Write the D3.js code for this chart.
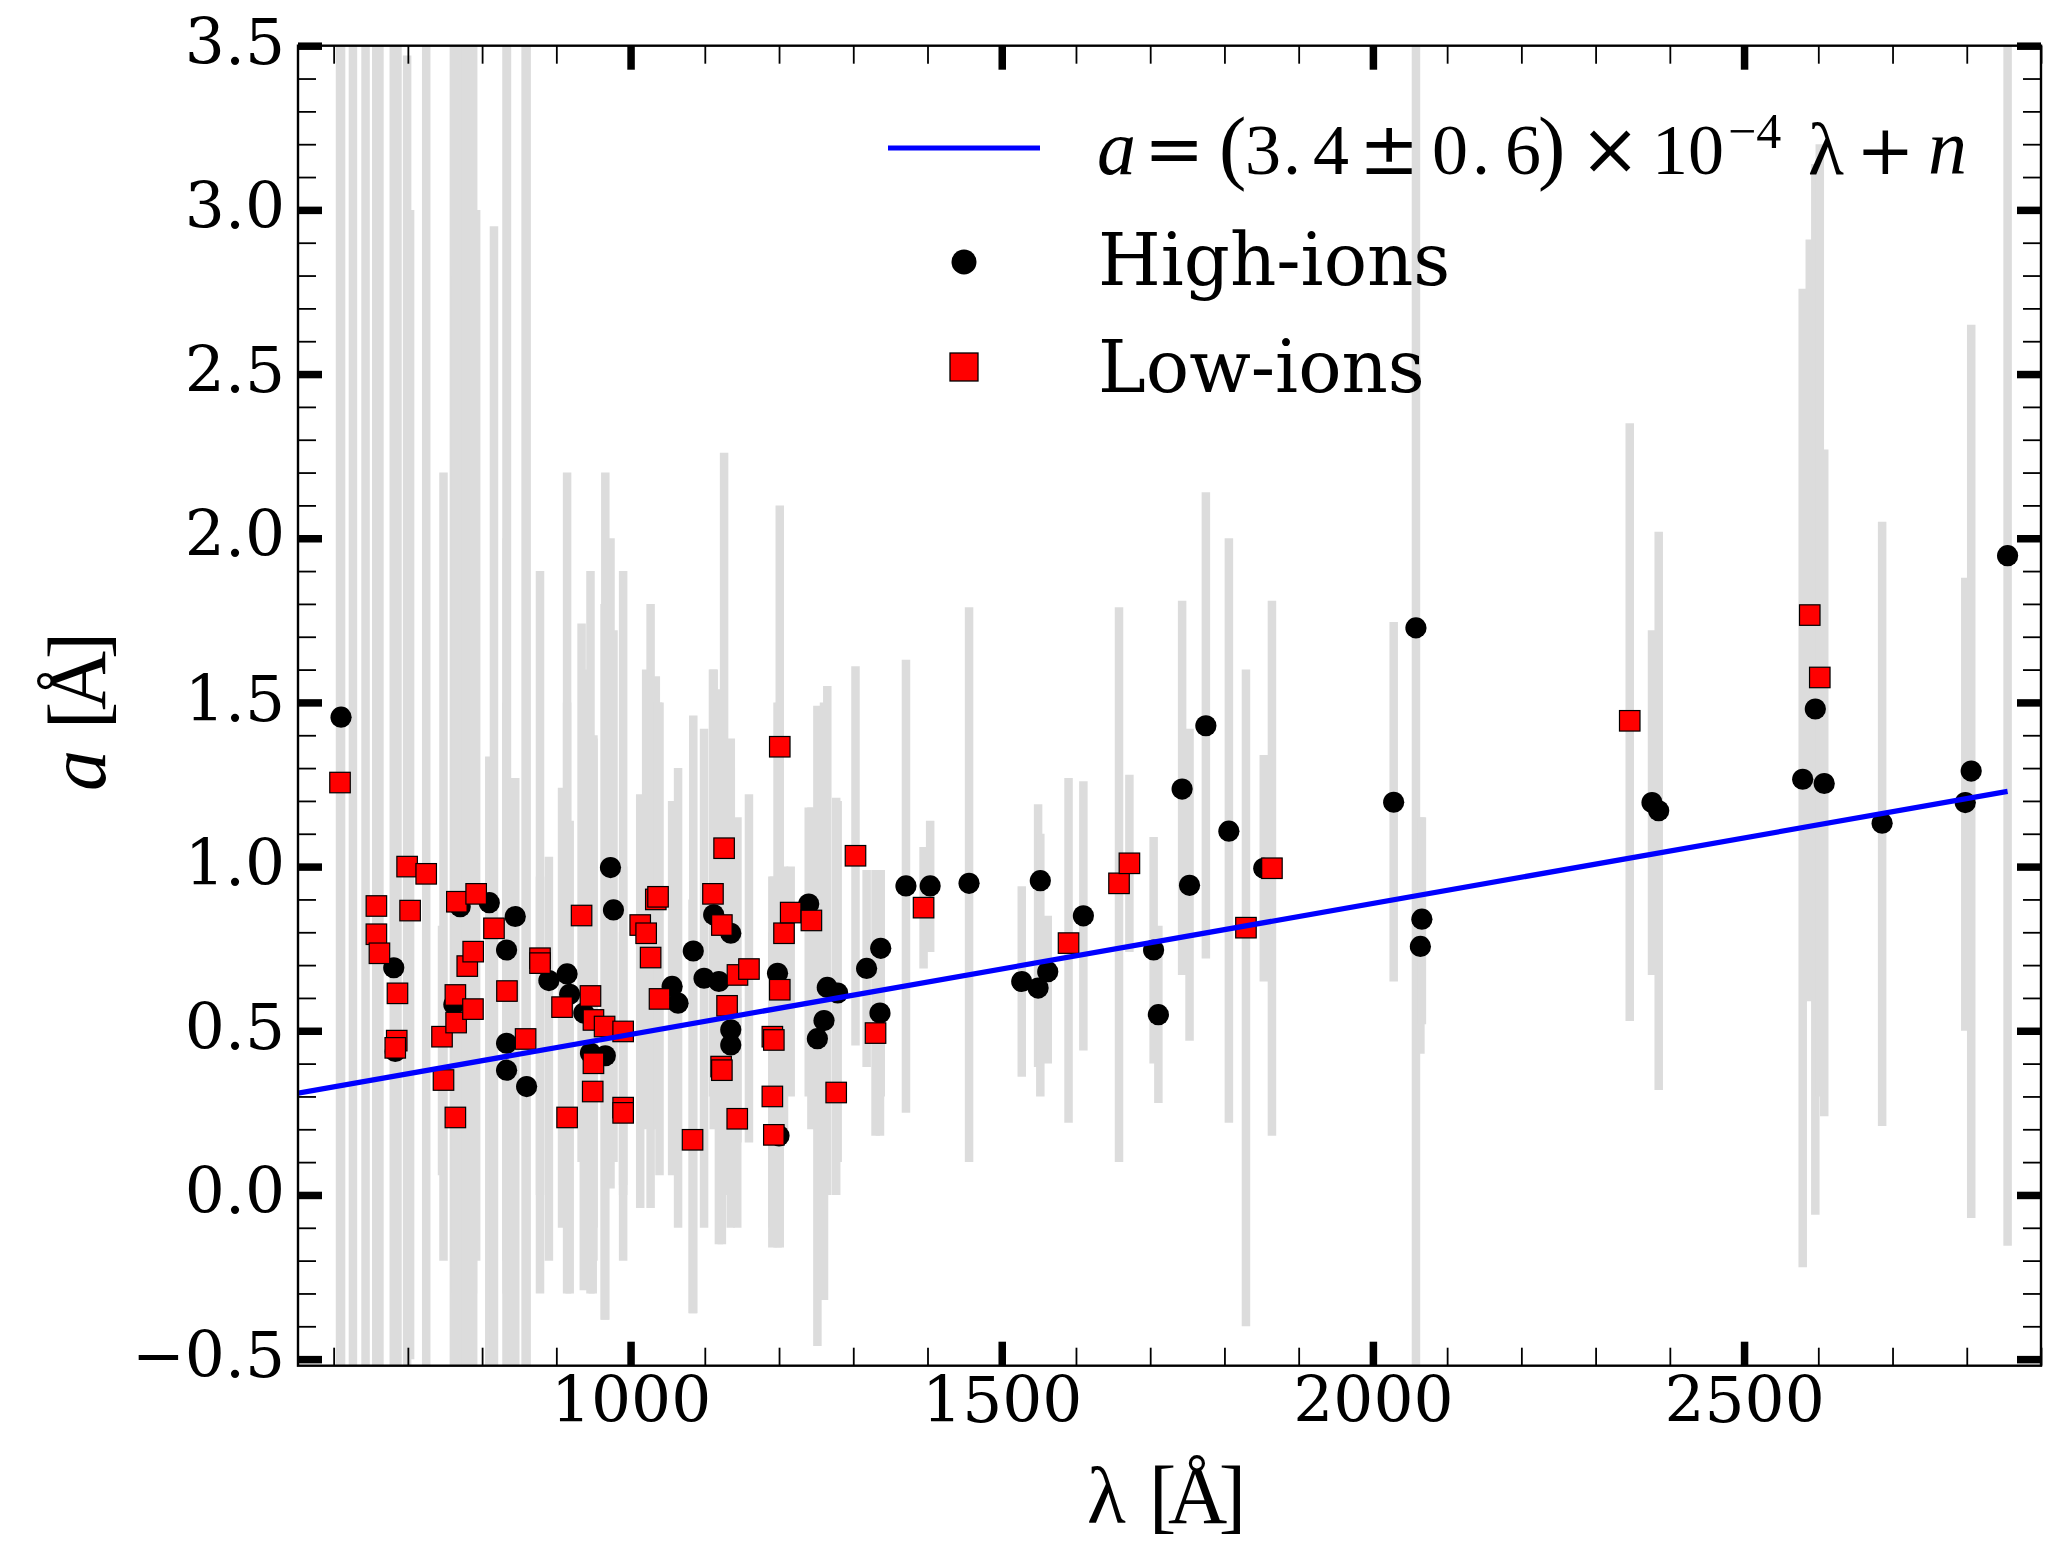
<!DOCTYPE html>
<html><head><meta charset="utf-8">
<script src="https://cdn.jsdelivr.net/npm/d3@7"></script>
<style>body{margin:0;background:#fff}</style>
</head><body>
<svg id="chart" width="2057" height="1562"></svg>
<script>
// ---- data ----
const highLam = [610, 681, 683, 762, 770.5, 809.7, 833, 833, 833, 844.7, 860, 890, 914.5, 918, 937, 946, 966, 973, 977, 1056, 1064, 1084.5, 1099, 1112, 1119, 1135, 1135, 1135, 1198, 1200, 1240, 1251.7, 1260.6, 1265, 1279, 1318, 1336, 1337, 1371, 1403.6, 1456, 1527, 1549, 1552, 1562, 1610, 1704.6, 1711, 1743, 1753, 1775, 1806, 1853, 2028, 2058, 2064, 2066, 2376, 2385, 2579, 2596, 2608, 2686, 2798, 2806, 2855];
const highA = [1.455, 0.692, 0.437, 0.580, 0.878, 0.890, 0.746, 0.462, 0.380, 0.848, 0.330, 0.653, 0.673, 0.611, 0.554, 0.432, 0.424, 0.997, 0.868, 0.635, 0.584, 0.743, 0.660, 0.853, 0.650, 0.797, 0.503, 0.457, 0.675, 0.180, 0.886, 0.476, 0.531, 0.632, 0.615, 0.690, 0.554, 0.751, 0.941, 0.941, 0.949, 0.650, 0.630, 0.957, 0.680, 0.850, 0.746, 0.549, 1.236, 0.943, 1.429, 1.108, 0.995, 1.196, 1.727, 0.757, 0.840, 1.195, 1.170, 1.266, 1.480, 1.253, 1.132, 1.195, 1.291, 1.947];
const highLo = [-0.6, -0.6, -0.6, -0.6, -0.6, -0.6, -0.6, -0.3, -0.2, -0.6, -0.6, -0.2, -0.1, -0.3, -0.29, 0.0, -0.38, 0.02, 0.1, 0.06, -0.1, -0.36, -0.1, 0.2, -0.15, 0.1, -0.1, 0.2, -0.16, -0.1, 0.3, -0.46, -0.32, 0.0, 0.1, 0.39, 0.18, 0.3, 0.25, 0.74, 0.10, 0.36, 0.39, 0.3, 0.4, 0.44, 0.40, 0.28, 0.67, 0.47, 0.72, 0.22, 0.65, 0.65, -0.6, 0.43, 0.52, 0.67, 0.32, -0.22, -0.06, 0.24, 0.21, 0.50, -0.07, -0.155];
const highHi = [3.6, 3.6, 3.6, 3.6, 3.6, 1.335, 3.6, 2.0, 1.5, 1.27, 3.6, 1.03, 2.2, 1.14, 1.6, 1.4, 2.2, 2.0, 1.72, 1.2, 1.3, 1.46, 1.42, 1.6, 1.54, 1.39, 1.3, 1.1, 1.5, 0.5, 1.18, 1.49, 1.5, 1.55, 1.2, 0.99, 0.99, 0.99, 1.63, 1.14, 1.79, 0.94, 1.19, 1.1, 0.85, 1.26, 1.09, 0.82, 1.81, 1.42, 2.14, 2.0, 1.34, 1.745, 3.6, 1.15, 1.15, 1.72, 2.02, 2.76, 3.14, 2.27, 2.05, 1.88, 2.65, 3.6];

const lowLam = [608.6, 657.6, 657.6, 661.7, 686, 685, 683, 699, 724.7, 703, 746, 748, 764, 764, 765, 766, 780, 788, 787.7, 792, 816, 833.5, 858.6, 878, 878, 907.7, 914.5, 934, 946, 950, 950, 949, 965, 990, 990, 990, 1013, 1021, 1027, 1034, 1037, 1039, 1083.5, 1111, 1123, 1126, 1130, 1122, 1123, 1144, 1159.5, 1143.7, 1191, 1193, 1191, 1193, 1201, 1201, 1206.7, 1215.7, 1243.6, 1277, 1303, 1330, 1394.7, 1590, 1658, 1672, 1829, 1864, 2346, 2588.5, 2602];
const lowA = [1.256, 0.880, 0.794, 0.736, 0.614, 0.470, 0.448, 1.000, 0.978, 0.866, 0.482, 0.350, 0.236, 0.609, 0.525, 0.893, 0.697, 0.741, 0.566, 0.917, 0.812, 0.621, 0.475, 0.721, 0.706, 0.572, 0.236, 0.851, 0.606, 0.533, 0.401, 0.315, 0.513, 0.498, 0.266, 0.250, 0.822, 0.797, 0.723, 0.900, 0.908, 0.597, 0.168, 0.917, 0.822, 1.056, 0.576, 0.391, 0.380, 0.670, 0.688, 0.232, 0.482, 0.472, 0.300, 0.183, 1.365, 0.625, 0.797, 0.860, 0.836, 0.312, 1.033, 0.493, 0.875, 0.767, 0.949, 1.010, 0.814, 0.995, 1.444, 1.766, 1.576];
const lowLo = [-0.6, -0.6, -0.6, -0.6, -0.6, -0.6, -0.6, -0.6, -0.6, -0.5, 0.06, -0.2, -0.6, -0.6, -0.3, -0.6, -0.6, -0.6, -0.3, -0.2, -0.6, -0.6, -0.6, -0.3, 0.0, -0.1, -0.3, 0.1, -0.3, -0.1, -0.2, -0.3, -0.38, 0.03, -0.2, 0.0, -0.04, 0.2, -0.04, 0.3, 0.2, 0.06, -0.36, 0.3, -0.15, 0.4, 0.0, -0.1, 0.0, 0.16, 0.16, -0.1, -0.16, 0.0, -0.1, -0.1, 0.5, -0.16, 0.2, 0.3, 0.2, 0.0, 0.455, 0.18, 0.69, 0.22, 0.10, 0.74, -0.4, 0.18, 0.53, 0.59, 0.3];
const lowHi = [3.6, 3.6, 3.6, 3.6, 3.6, 3.6, 3.6, 3.47, 3.6, 3.0, 0.82, 2.2, 3.6, 3.6, 2.8, 3.6, 3.6, 3.6, 2.5, 3.0, 2.95, 3.6, 3.6, 0.97, 1.9, 1.24, 1.5, 1.74, 1.9, 1.39, 1.4, 1.2, 1.8, 1.9, 1.0, 0.8, 1.22, 1.6, 1.8, 1.58, 1.5, 1.5, 0.9, 1.6, 1.5, 2.26, 1.3, 1.0, 0.9, 1.15, 1.22, 0.6, 0.97, 0.97, 0.8, 0.5, 2.1, 1.5, 1.0, 1.0, 1.18, 1.21, 1.61, 0.99, 1.06, 1.27, 1.79, 1.28, 1.6, 1.81, 2.35, 2.91, 3.2];

// error bars whose markers fall outside the axes
const extraLam = [626, 643];
const extraLo = [-0.6, -0.6];
const extraHi = [3.6, 3.6];

// fitted line end points
const fitLam = [552, 2855];
const fitA = [0.310, 1.229];

const xMajor = [1000, 1500, 2000, 2500];
const yMajor = [-0.5, 0.0, 0.5, 1.0, 1.5, 2.0, 2.5, 3.0, 3.5];

// ---- layout ----
const L = 298, R = 2041, T = 45.7, B = 1365.7;
const svg = d3.select('#chart');
const x = d3.scaleLinear().domain([552, 2900]).range([L, R]);
const y = d3.scaleLinear().domain([-0.52, 3.5]).range([B, T]);

svg.append('defs').append('clipPath').attr('id', 'clip')
  .append('rect').attr('x', L).attr('y', T).attr('width', R - L).attr('height', B - T);

const plot = svg.append('g').attr('clip-path', 'url(#clip)');

const high = highLam.map((l, i) => ({l, a: highA[i], lo: highLo[i], hi: highHi[i]}));
const low = lowLam.map((l, i) => ({l, a: lowA[i], lo: lowLo[i], hi: lowHi[i]}));
const extra = extraLam.map((l, i) => ({l, lo: extraLo[i], hi: extraHi[i]}));

const barColor = '#dcdcdc', barW = 8.5;
plot.append('g').selectAll('line').data([...extra, ...high, ...low]).join('line')
  .attr('x1', d => x(d.l)).attr('x2', d => x(d.l))
  .attr('y1', d => y(d.lo)).attr('y2', d => y(d.hi))
  .attr('stroke', barColor).attr('stroke-width', barW);

plot.append('g').selectAll('circle').data(high).join('circle')
  .attr('cx', d => x(d.l)).attr('cy', d => y(d.a)).attr('r', 10.6)
  .attr('fill', '#000');

const s = 20.5;
plot.append('g').selectAll('rect').data(low).join('rect')
  .attr('x', d => x(d.l) - s / 2).attr('y', d => y(d.a) - s / 2)
  .attr('width', s).attr('height', s)
  .attr('fill', '#ff0000').attr('stroke', '#000').attr('stroke-width', 1.2);

plot.append('path')
  .datum(fitLam.map((l, i) => [l, fitA[i]]))
  .attr('d', d3.line().x(d => x(d[0])).y(d => y(d[1])))
  .attr('stroke', '#0000ff').attr('stroke-width', 5.2).attr('fill', 'none');

// ---- axes ----
const tickFont = '"DejaVu Serif", serif';
const xMinor = d3.range(600, 2901, 100).filter(v => v % 500 !== 0);
const yMinor = d3.range(-5, 36).map(v => v / 10).filter(v => Math.abs(v * 2 - Math.round(v * 2)) > 1e-6);

function styleAxis(g, w) {
  g.select('.domain').remove();
  g.selectAll('.tick line').attr('stroke', '#000').attr('stroke-width', w);
}
svg.append('g').attr('transform', `translate(0,${B})`)
  .call(d3.axisBottom(x).tickValues(xMinor).tickSize(-18).tickFormat(''))
  .call(g => styleAxis(g, 1.8));
const xb = svg.append('g').attr('transform', `translate(0,${B})`)
  .call(d3.axisBottom(x).tickValues(xMajor).tickSize(-24).tickPadding(12).tickFormat(d3.format('d')))
  .call(g => styleAxis(g, 7.5));
xb.selectAll('text').attr('font-family', tickFont).attr('font-size', 63).attr('fill', '#000');
svg.append('g').attr('transform', `translate(0,${T})`)
  .call(d3.axisTop(x).tickValues(xMinor).tickSize(-18).tickFormat(''))
  .call(g => styleAxis(g, 1.8));
svg.append('g').attr('transform', `translate(0,${T})`)
  .call(d3.axisTop(x).tickValues(xMajor).tickSize(-24).tickFormat(''))
  .call(g => styleAxis(g, 7.5));
svg.append('g').attr('transform', `translate(${L},0)`)
  .call(d3.axisLeft(y).tickValues(yMinor).tickSize(-18).tickFormat(''))
  .call(g => styleAxis(g, 1.8));
const yl = svg.append('g').attr('transform', `translate(${L},0)`)
  .call(d3.axisLeft(y).tickValues(yMajor).tickSize(-24).tickPadding(13)
    .tickFormat(d => d3.format('.1f')(d).replace('-', '\u2212')))
  .call(g => styleAxis(g, 7.5));
yl.selectAll('text').attr('font-family', tickFont).attr('font-size', 63).attr('fill', '#000').attr('dy', '0.28em');
svg.append('g').attr('transform', `translate(${R},0)`)
  .call(d3.axisRight(y).tickValues(yMinor).tickSize(-18).tickFormat(''))
  .call(g => styleAxis(g, 1.8));
svg.append('g').attr('transform', `translate(${R},0)`)
  .call(d3.axisRight(y).tickValues(yMajor).tickSize(-24).tickFormat(''))
  .call(g => styleAxis(g, 7.5));

svg.append('rect').attr('x', L).attr('y', T).attr('width', R - L).attr('height', B - T)
  .attr('fill', 'none').attr('stroke', '#000').attr('stroke-width', 2.4);

// ---- glyph helper: one text element, absolutely placed tspans ----
const LIB = '"Liberation Serif", serif', DJV = '"DejaVu Serif", serif';
function glyphs(parent, list, baseline) {
  const t = parent.append('text').attr('fill', '#000');
  list.forEach(([str, gx, font, size, italic, raise, len]) => {
    const sp = t.append('tspan').attr('x', gx).attr('y', baseline - (raise || 0))
      .attr('font-family', font).attr('font-size', size)
      .attr('font-style', italic ? 'italic' : 'normal').text(str);
    if (len) sp.attr('textLength', len).attr('lengthAdjust', 'spacing');
  });
  return t;
}

// ---- axis labels ----
glyphs(svg.append('g'), [
  ['\u03bb', 1087, LIB, 80, false],
  ['[\u00c5]', 1149, LIB, 82, false, 0, 97]
], 1523);

const yg = svg.append('g').attr('transform', 'rotate(-90)');
glyphs(yg, [
  ['a', -791, LIB, 82, true],
  ['[\u00c5]', -729, LIB, 82, false, 0, 97]
], 105);

// ---- legend ----
const lg = svg.append('g');
lg.append('line').attr('x1', 888).attr('x2', 1040).attr('y1', 148).attr('y2', 148)
  .attr('stroke', '#0000ff').attr('stroke-width', 5.2);
lg.append('circle').attr('cx', 964).attr('cy', 262).attr('r', 12.5).attr('fill', '#000');
lg.append('rect').attr('x', 964 - 14).attr('y', 367 - 14).attr('width', 28).attr('height', 28)
  .attr('fill', '#ff0000').attr('stroke', '#000').attr('stroke-width', 1.3);

glyphs(lg, [
  ['a', 1097, LIB, 78, true],
  ['=', 1144, DJV, 72, false],
  ['(', 1219, LIB, 82, false],
  ['3', 1245, LIB, 72, false],
  ['.', 1283, LIB, 72, false],
  ['4', 1313, LIB, 72, false],
  ['\u00b1', 1359, DJV, 72, false],
  ['0', 1432, LIB, 72, false],
  ['.', 1472, LIB, 72, false],
  ['6', 1505, LIB, 72, false],
  [')', 1538, LIB, 82, false],
  ['\u00d7', 1580, DJV, 72, false],
  ['10', 1652, LIB, 72, false],
  ['\u22124', 1728, LIB, 50, false, 26],
  ['\u03bb', 1808, LIB, 74, false],
  ['+', 1856, DJV, 70, false],
  ['n', 1928, LIB, 78, true]
], 174);

lg.append('text').attr('x', 1098).attr('y', 285).attr('font-family', DJV)
  .attr('font-size', 72).attr('fill', '#000').text('High-ions');
lg.append('text').attr('x', 1098).attr('y', 392).attr('font-family', DJV)
  .attr('font-size', 72).attr('fill', '#000').text('Low-ions');
</script>
</body></html>
